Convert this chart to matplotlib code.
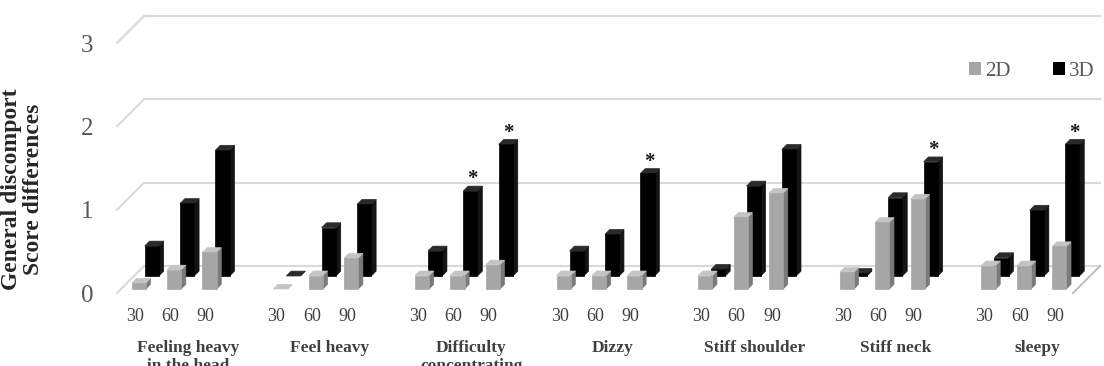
import matplotlib.pyplot as plt
from matplotlib.patches import Polygon, Patch

# categories and levels
categories = ['Feeling heavy\nin the head', 'Feel heavy', 'Difficulty\nconcentrating',
              'Dizzy', 'Stiff shoulder', 'Stiff neck', 'sleepy']
levels = ['30', '60', '90']

# values (per category: 30, 60, 90)
vals_2d = [[0.07, 0.23, 0.44],
           [0.00, 0.16, 0.37],
           [0.16, 0.16, 0.29],
           [0.16, 0.16, 0.16],
           [0.16, 0.86, 1.15],
           [0.20, 0.80, 1.08],
           [0.28, 0.28, 0.51]]
vals_3d = [[0.36, 0.87, 1.51],
           [0.00, 0.58, 0.86],
           [0.30, 1.02, 1.58],
           [0.30, 0.50, 1.23],
           [0.08, 1.08, 1.52],
           [0.03, 0.94, 1.37],
           [0.22, 0.79, 1.58]]
# significant 3D bars (category index, level index)
stars = [(2, 1), (2, 2), (3, 2), (5, 2), (6, 2)]

# pseudo 3D geometry
DX, DY = 0.763, 0.324
W = 0.4

plt.rcParams['font.family'] = ['Liberation Serif', 'DejaVu Serif']
fig = plt.figure(figsize=(11.04, 3.66), dpi=100)
ax = fig.add_axes([117 / 1104, 1 - 293 / 366, 956 / 1104, 250 / 366])
ax.set_xlim(-0.5, 26.5)
ax.set_ylim(0, 3)
for s in ax.spines.values():
    s.set_visible(False)


def box(xc, h, t0, t1, front, side, top):
    x0 = xc - W / 2 + t0 * DX
    x1 = xc + W / 2 + t0 * DX
    y0 = t0 * DY
    ddx, ddy = (t1 - t0) * DX, (t1 - t0) * DY
    ax.add_patch(Polygon([(x1, y0), (x1 + ddx, y0 + ddy), (x1 + ddx, y0 + ddy + h), (x1, y0 + h)],
                         fc=side, ec=side, lw=0.5, clip_on=False))
    ax.add_patch(Polygon([(x0, y0 + h), (x1, y0 + h), (x1 + ddx, y0 + h + ddy), (x0 + ddx, y0 + h + ddy)],
                         fc=top, ec=top, lw=0.5, clip_on=False))
    if h > 0:
        ax.add_patch(Polygon([(x0, y0), (x1, y0), (x1, y0 + h), (x0, y0 + h)],
                             fc=front, ec=front, lw=0.5, clip_on=False))


# back wall gridlines and side lines
for v in range(4):
    ax.plot([-0.5 + DX, 26.5 + DX], [v + DY, v + DY], color='#d9d9d9', lw=1.5, clip_on=False, zorder=0)
    ax.plot([-0.5, -0.5 + DX], [v, v + DY], color='#d9d9d9', lw=1.5, clip_on=False, zorder=0)
ax.plot([26.5, 26.5 + DX], [0, DY], color='#bfbfbf', lw=1.5, clip_on=False, zorder=0)

positions = []
for g in range(len(categories)):
    for i in range(3):
        positions.append(g * 4 + i)

# 3D series (back row)
for g in range(len(categories)):
    for i in range(3):
        box(g * 4 + i, vals_3d[g][i], 0.63, 0.81, '#000000', '#141414', '#2a2a2a')
# 2D series (front row)
for g in range(len(categories)):
    for i in range(3):
        box(g * 4 + i, vals_2d[g][i], 0.15, 0.32, '#a6a6a6', '#7a7a7a', '#c4c4c4')

for g, i in stars:
    ax.text(g * 4 + i + 0.72 * DX, vals_3d[g][i] + 0.81 * DY + 0.08, '*', ha='center', va='center',
            fontsize=15, fontweight='bold', color='#1a1a1a', clip_on=False)

ax.set_yticks(range(4))
ax.set_yticklabels(['0', '1', '2', '3'], fontsize=18, color='#595959')
ax.set_xticks(positions)
ax.set_xticklabels(levels * len(categories), fontsize=13, color='#404040')
ax.tick_params(axis='y', length=0, pad=17)
ax.tick_params(axis='x', length=0, pad=11)

for g, name in enumerate(categories):
    ax.text(g * 4 + 1.5, -0.56, name, ha='center', va='top', fontsize=12.5, fontweight='bold',
            color='#404040', linespacing=1.2, clip_on=False)

ax.set_ylabel('General discomport\nScore differences', fontsize=17, fontweight='bold',
              color='#262626', linespacing=1.1)
ax.yaxis.set_label_coords(-0.076, 0.416)

handles = [Patch(fc='#a6a6a6', label='2D'), Patch(fc='#000000', label='3D')]
ax.legend(handles=handles, loc='center right', bbox_to_anchor=(1095 / 1104, 1 - 71 / 366),
          bbox_transform=fig.transFigure, ncol=2, frameon=False, fontsize=15, borderaxespad=0,
          borderpad=0, handlelength=0.6, handleheight=0.6, handletextpad=0.2, columnspacing=2.0,
          labelcolor='#595959')

fig.savefig('out.png', dpi=100)
